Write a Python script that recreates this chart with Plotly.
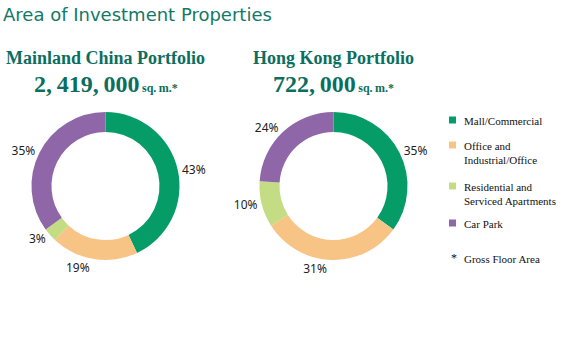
import plotly.graph_objects as go

categories = ["Mall/Commercial", "Office and<br>Industrial/Office", "Residential and<br>Serviced Apartments", "Car Park"]
mainland_values = [43, 19, 3, 35]
hongkong_values = [35, 31, 10, 24]
colors = ["#069c68", "#f8c486", "#c4dc84", "#8f67a8"]

W, H = 562, 353
TEAL = "#0c6e5e"

def px(x):
    return x / W

def py(y):
    return 1 - y / H

fig = go.Figure()

def add_pie(values, cx, cy, r):
    fig.add_trace(go.Pie(
        labels=categories, values=values, sort=False, direction="clockwise", rotation=0,
        hole=0.73, marker=dict(colors=colors, line=dict(width=0)),
        texttemplate="%{value}%", textposition="outside",
        textfont=dict(family="Noto Sans", size=12, color="#222"),
        domain=dict(x=[px(cx - r), px(cx + r)], y=[py(cy + r), py(cy - r)]),
        showlegend=False, hoverinfo="skip",
    ))

add_pie(mainland_values, 105.5, 186, 74)
add_pie(hongkong_values, 333.5, 186, 74)

ann = []
ann.append(dict(text="Area of Investment Properties", x=px(1), y=py(14), xanchor="left", yanchor="middle",
                font=dict(family="DejaVu Sans", size=18, color="#137868")))
for cx, name, num in [(105.5, "Mainland China Portfolio", "2,\u2009419,\u2009000"), (333.5, "Hong Kong Portfolio", "722,\u2009000")]:
    ann.append(dict(text=f"<b>{name}</b>", x=px(cx), y=py(58), xanchor="center", yanchor="middle",
                    font=dict(family="Liberation Serif", size=18, color=TEAL)))
    ann.append(dict(text=f"<b>{num}<span style='font-size:12px'>\u2009sq.\u2009m.*</span></b>", x=px(cx), y=py(84),
                    xanchor="center", yanchor="middle",
                    font=dict(family="Liberation Serif", size=24, color=TEAL)))

legend_tops = [113, 138, 179, 216]
shapes = []
centers = [120, 145, 186, 223]
for cat, col, top, c in zip(categories, colors, legend_tops, centers):
    shapes.append(dict(type="rect", xref="paper", yref="paper", x0=px(449), x1=px(456),
                       y0=py(c + 3.5), y1=py(c - 3.5), fillcolor=col, line=dict(width=0)))
    ann.append(dict(text=cat, x=px(462), y=py(top), xanchor="left", yanchor="top", align="left",
                    font=dict(family="Liberation Serif", size=11, color="#111")))
ann.append(dict(text="*", x=px(449), y=py(258), xanchor="left", yanchor="middle",
                font=dict(family="Liberation Serif", size=12, color="#111")))
ann.append(dict(text="Gross Floor Area", x=px(462), y=py(259), xanchor="left", yanchor="middle",
                font=dict(family="Liberation Serif", size=11, color="#111")))

for a in ann:
    a.update(xref="paper", yref="paper", showarrow=False)

fig.update_layout(width=W, height=H, margin=dict(l=0, r=0, t=0, b=0),
                  paper_bgcolor="white", plot_bgcolor="white",
                  annotations=ann, shapes=shapes)

fig.write_html("out.html")
